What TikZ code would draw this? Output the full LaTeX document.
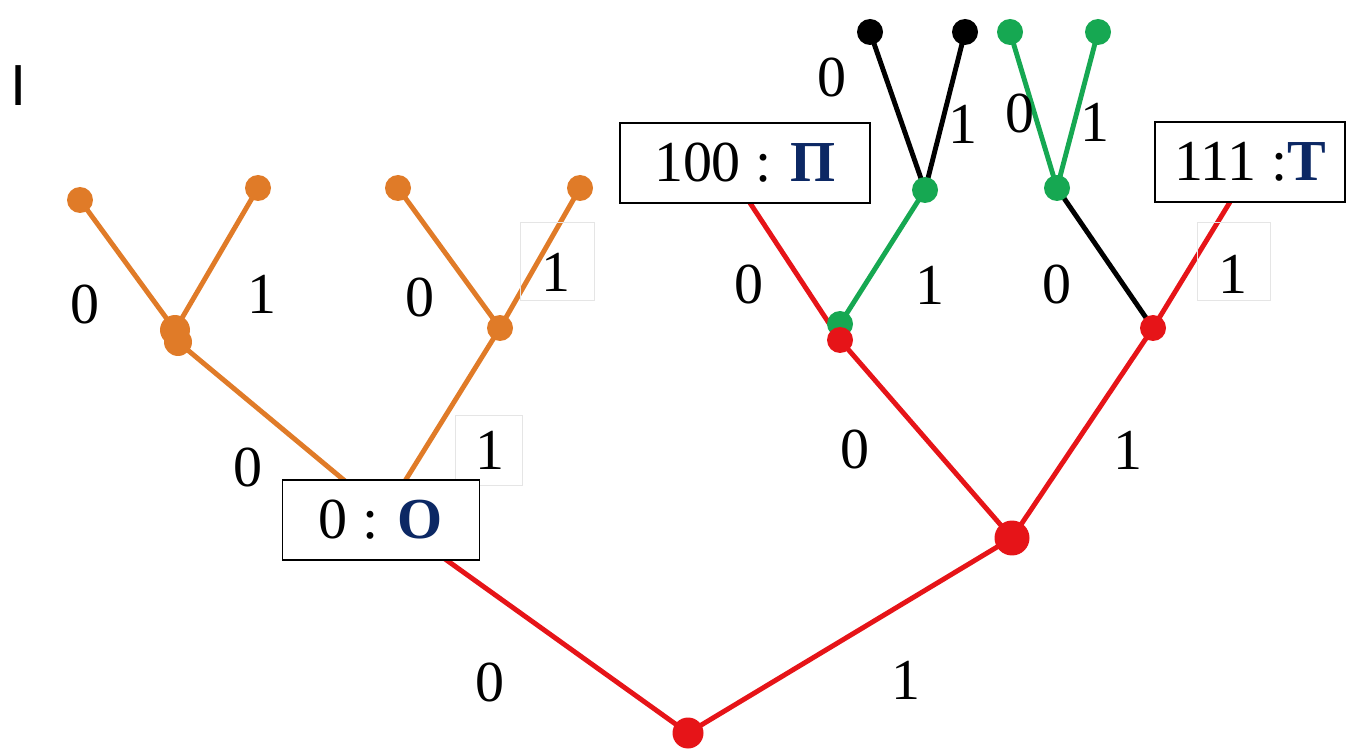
\documentclass[tikz,border=0pt]{standalone}
\usepackage{fontspec}
\setmainfont{Liberation Serif}
\newfontfamily\timesT{Liberation Serif}
\newfontfamily\marksans{Liberation Sans}
\usetikzlibrary{backgrounds}
\definecolor{orangeT}{RGB}{224,123,40}
\definecolor{redT}{RGB}{230,20,24}
\definecolor{greenT}{RGB}{22,168,82}
\definecolor{navyT}{RGB}{12,40,100}
\tikzset{
  edge/.style={line width=2.8pt, line cap=round},
  dot/.style={circle, inner sep=0pt, minimum size=0.52cm},
  bigdot/.style={circle, inner sep=0pt, minimum size=0.62cm},
  code/.style={draw, line width=1pt, fill=white, minimum height=1.6cm,
    inner sep=0pt, font=\timesT\fontsize{33}{38}\selectfont},
  bit/.style={inner sep=0pt, font=\timesT\fontsize{33}{38}\selectfont},
  ghost/.style={draw=black!10, line width=0.5pt}
}
\newcommand{\sym}[1]{{\bfseries\color{navyT}#1}}
\begin{document}
\begin{tikzpicture}[x=0.02cm, y=-0.02cm]
\useasboundingbox (0,0) rectangle (1365,749);

% faint frames behind some labels
\draw[ghost] (520,222) rectangle (594,300);
\draw[ghost] (455,415) rectangle (522,485);
\draw[ghost] (1197,222) rectangle (1270,300);

\node[inner sep=0pt, font=\marksans\fontsize{33}{36}\selectfont] (mark) at (19,86) {I};

% code boxes
\node[code, minimum width=3.94cm] (boxO) at (381,520) {0 : \sym{О}\hspace{0.45cm}};
\node[code, minimum width=5cm] (boxP) at (745,163) {100 : \sym{П}};
\node[code, minimum width=3.8cm] (boxT) at (1250,162) {111 :\sym{Т}};
\coordinate (oTL) at (345,481);
\coordinate (oTR) at (405,481);
\coordinate (oB) at (445,559);
\coordinate (pB) at (750,203);
\coordinate (tB) at (1230,202);

% tree nodes
\node[bigdot, fill=redT] (root) at (688,733) {};
\node[bigdot, fill=redT, minimum size=0.7cm] (rone) at (1012,538) {};
\node[dot, fill=greenT] (rzeroG) at (840,324) {};
\node[dot, fill=redT] (rzero) at (840,340) {};
\node[dot, fill=redT] (roneone) at (1153,328) {};
\node[bigdot, fill=orangeT, minimum size=0.6cm] (lzero) at (175,330) {};
\node[bigdot, fill=orangeT, minimum size=0.56cm] (lzeroB) at (178,342) {};
\node[dot, fill=orangeT] (lzl) at (80,200) {};
\node[dot, fill=orangeT] (lzr) at (258,188) {};
\node[dot, fill=orangeT] (lone) at (500,328) {};
\node[dot, fill=orangeT] (lol) at (398,188) {};
\node[dot, fill=orangeT] (lor) at (580,188) {};
\node[dot, fill=greenT] (gP) at (925,190) {};
\node[dot, fill=black] (kl) at (870,32) {};
\node[dot, fill=black] (kr) at (965,32) {};
\node[dot, fill=greenT] (gT) at (1057,188) {};
\node[dot, fill=greenT] (gl) at (1010,32) {};
\node[dot, fill=greenT] (gr) at (1098,32) {};

\begin{scope}[on background layer]
\draw[edge, redT] (oB) -- (root.center) -- (rone.center);
\draw[edge, redT] (pB) -- (rzero.center) -- (rone.center) -- (roneone.center) -- (tB);
\draw[edge, greenT] (rzeroG.center) -- (gP.center);
\draw[edge, black] (kl.center) -- (gP.center) -- (kr.center);
\draw[edge, black] (roneone.center) -- (gT.center);
\draw[edge, greenT] (gl.center) -- (gT.center) -- (gr.center);
\draw[edge, orangeT] (oTL) -- (lzeroB.center);
\draw[edge, orangeT] (lzl.center) -- (lzero.center) -- (lzr.center);
\draw[edge, orangeT] (oTR) -- (lone.center);
\draw[edge, orangeT] (lol.center) -- (lone.center) -- (lor.center);
\end{scope}

% edge labels
\node[bit] (b1) at (85,305) {0};
\node[bit] (b2) at (262,294) {1};
\node[bit] (b3) at (420,298) {0};
\node[bit] (b4) at (556,272) {1};
\node[bit] (b5) at (248,468) {0};
\node[bit] (b6) at (490,450) {1};
\node[bit] (b7) at (490,683) {0};
\node[bit] (b8) at (906,680) {1};
\node[bit] (b9) at (855,450) {0};
\node[bit] (b10) at (1128,450) {1};
\node[bit] (b11) at (749,285) {0};
\node[bit] (b12) at (930,285) {1};
\node[bit] (b13) at (1057,285) {0};
\node[bit] (b14) at (1233,274) {1};
\node[bit] (b15) at (832,78) {0};
\node[bit] (b16) at (963,124) {1};
\node[bit] (b17) at (1020,114) {0};
\node[bit] (b18) at (1095,122) {1};
\end{tikzpicture}
\end{document}
